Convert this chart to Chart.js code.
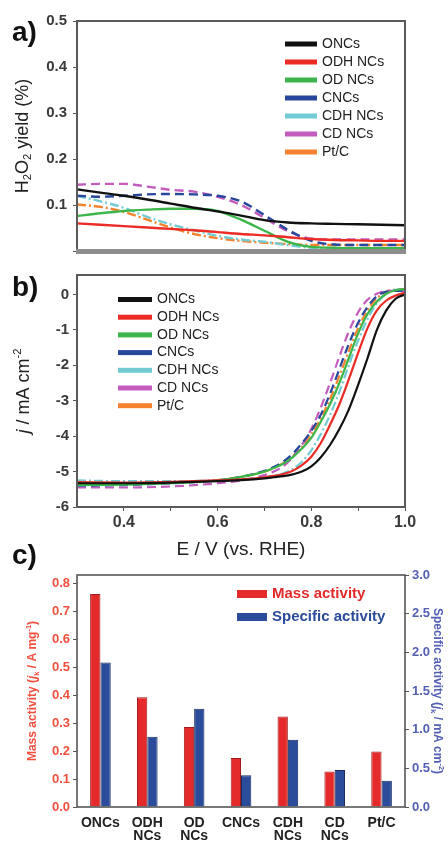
<!DOCTYPE html>
<html>
<head>
<meta charset="utf-8">
<script src="https://cdn.jsdelivr.net/npm/chart.js@4.4.1/dist/chart.umd.min.js"></script>
<style>
  html, body { margin: 0; padding: 0; background: #fff; }
  body { width: 448px; height: 843px; position: relative; overflow: hidden; }
  .box { position: absolute; left: 0; width: 448px; }
  .tag { position: absolute; left: 12px; font: bold 28px "Liberation Sans", Arial, sans-serif; line-height: 28px; color: #111; }
</style>
</head>
<body>
<div class="box" style="top:0;height:266px"><canvas id="yieldChart"></canvas></div>
<div class="box" style="top:262px;height:310px"><canvas id="lsvChart"></canvas></div>
<div class="box" style="top:560px;height:283px"><canvas id="activityChart"></canvas></div>
<div class="tag" style="top:18px">a)</div>
<div class="tag" style="top:273px">b)</div>
<div class="tag" style="top:541px">c)</div>
<script>
// ---- data ----
const seriesNames = ["ONCs", "ODH NCs", "OD NCs", "CNCs", "CDH NCs", "CD NCs", "Pt/C"];

// a) H2O2 yield vs potential
const xYield = [0.30, 0.35, 0.40, 0.45, 0.50, 0.55, 0.60, 0.65, 0.70, 0.75, 0.80, 0.85, 0.90, 0.95, 1.00];
const yieldONCs = [0.134, 0.127, 0.120, 0.112, 0.103, 0.094, 0.086, 0.077, 0.067, 0.062, 0.060, 0.059, 0.058, 0.057, 0.056];
const yieldODH  = [0.060, 0.057, 0.054, 0.051, 0.048, 0.045, 0.041, 0.037, 0.034, 0.030, 0.026, 0.024, 0.023, 0.022, 0.022];
const yieldOD   = [0.076, 0.082, 0.087, 0.090, 0.092, 0.092, 0.087, 0.068, 0.044, 0.020, 0.009, 0.007, 0.006, 0.006, 0.006];
const yieldCNCs = [0.120, 0.118, 0.120, 0.123, 0.124, 0.123, 0.120, 0.108, 0.078, 0.046, 0.022, 0.014, 0.013, 0.013, 0.013];
const yieldCDH  = [0.120, 0.108, 0.094, 0.074, 0.058, 0.045, 0.033, 0.025, 0.020, 0.013, 0.007, 0.006, 0.006, 0.006, 0.006];
const yieldCD   = [0.144, 0.146, 0.146, 0.140, 0.133, 0.129, 0.118, 0.100, 0.072, 0.043, 0.027, 0.025, 0.025, 0.025, 0.025];
const yieldPtC  = [0.101, 0.096, 0.085, 0.068, 0.051, 0.037, 0.028, 0.022, 0.018, 0.015, 0.013, 0.013, 0.013, 0.013, 0.013];
const yTicksA = [0, 0.1, 0.2, 0.3, 0.4, 0.5];

// b) polarisation curves
const xLsv = [0.30, 0.40, 0.50, 0.60, 0.65, 0.70, 0.72, 0.74, 0.76, 0.78, 0.80, 0.82, 0.84, 0.86, 0.88, 0.90, 0.92, 0.94, 0.96, 0.98, 1.00];
const lsvONCs = [-5.33, -5.33, -5.31, -5.27, -5.24, -5.19, -5.16, -5.13, -5.08, -5.00, -4.85, -4.60, -4.25, -3.80, -3.25, -2.55, -1.80, -1.00, -0.45, -0.12, 0.00];
const lsvODH  = [-5.30, -5.31, -5.29, -5.25, -5.22, -5.16, -5.12, -5.07, -4.98, -4.82, -4.58, -4.20, -3.68, -3.10, -2.40, -1.65, -0.95, -0.45, -0.17, -0.03, 0.05];
const lsvOD   = [-5.38, -5.37, -5.33, -5.25, -5.15, -5.00, -4.90, -4.78, -4.60, -4.35, -4.05, -3.60, -3.10, -2.50, -1.80, -1.10, -0.55, -0.20, 0.02, 0.12, 0.15];
const lsvCNCs = [-5.40, -5.38, -5.33, -5.25, -5.15, -4.98, -4.87, -4.72, -4.50, -4.20, -3.85, -3.40, -2.80, -2.10, -1.40, -0.80, -0.35, -0.05, 0.08, 0.10, 0.10];
const lsvCDH  = [-5.25, -5.27, -5.27, -5.25, -5.22, -5.17, -5.11, -5.05, -4.93, -4.72, -4.40, -3.95, -3.40, -2.75, -2.00, -1.30, -0.70, -0.25, 0.02, 0.13, 0.15];
const lsvCD   = [-5.45, -5.45, -5.42, -5.33, -5.25, -5.10, -5.00, -4.85, -4.60, -4.25, -3.80, -3.20, -2.50, -1.75, -1.05, -0.50, -0.15, 0.02, 0.10, 0.10, 0.10];
const lsvPtC  = [-5.33, -5.32, -5.30, -5.24, -5.15, -5.00, -4.90, -4.76, -4.57, -4.30, -3.95, -3.50, -2.95, -2.30, -1.60, -0.95, -0.45, -0.10, 0.08, 0.14, 0.15];
const xTicksB = [0.4, 0.5, 0.6, 0.7, 0.8, 0.9, 1.0];
const yTicksB = [0, -1, -2, -3, -4, -5, -6];

// c) activities
const catLabels = ["ONCs", ["ODH", "NCs"], ["OD", "NCs"], "CNCs", ["CDH", "NCs"], ["CD", "NCs"], "Pt/C"];
const massActivity = [0.762, 0.393, 0.286, 0.175, 0.324, 0.127, 0.199];
const specificActivity = [1.87, 0.91, 1.27, 0.41, 0.87, 0.48, 0.34];
const massTicks = [0, 0.1, 0.2, 0.3, 0.4, 0.5, 0.6, 0.7, 0.8];
const specTicks = [0, 0.5, 1.0, 1.5, 2.0, 2.5, 3.0];

// ---- styling ----
const FAMILY = "'Liberation Sans', Arial, sans-serif";
Chart.defaults.font.family = FAMILY;
const colors = ["#111111", "#ec2b24", "#3cb54a", "#27479c", "#72cbd3", "#c35cbd", "#f5822e"];
const dashes = [[], [], [], [9, 5], [9, 3, 2, 3], [9, 5], [9, 3, 2, 3]];

const framePlugin = {
  id: "frame",
  afterDraw(chart, args, o) {
    const { ctx, chartArea: a } = chart;
    ctx.save();
    ctx.strokeStyle = o.color;
    ctx.lineWidth = o.width;
    ctx.strokeRect(a.left, a.top, a.right - a.left, a.bottom - a.top);
    if (o.band) {
      ctx.fillStyle = "#8d8d8d";
      ctx.fillRect(a.left - 1, a.bottom - 2, a.right - a.left + 2, 5);
    }
    ctx.restore();
  }
};

const insideLegend = {
  id: "insideLegend",
  afterDraw(chart, args, o) {
    const ctx = chart.ctx;
    ctx.save();
    ctx.font = o.font;
    ctx.textBaseline = "middle";
    ctx.textAlign = "left";
    chart.data.datasets.forEach((ds, i) => {
      const y = o.y + i * o.step;
      const col = ds.swatch || ds.borderColor;
      ctx.fillStyle = col;
      ctx.fillRect(o.x, y - o.h / 2, o.w, o.h);
      ctx.fillStyle = o.textColor || col;
      ctx.fillText(ds.label, o.x + o.w + o.gap, y);
    });
    ctx.restore();
  }
};

// axis titles with italics / sub / superscripts
const richTitle = {
  id: "richTitle",
  afterDraw(chart, args, o) {
    const ctx = chart.ctx;
    const a = chart.chartArea;
    (o.titles || []).forEach(t => {
      const fontFor = p => {
        const size = p.st === "sub" || p.st === "sup" ? t.size * 0.62 : t.size;
        return (p.st === "i" ? "italic " : "") + t.weight + " " + size + "px " + FAMILY;
      };
      let total = 0;
      t.parts.forEach(p => { ctx.font = fontFor(p); total += ctx.measureText(p.t).width; });
      ctx.save();
      ctx.translate(t.x, (a.top + a.bottom) / 2);
      ctx.rotate(t.rot);
      ctx.fillStyle = t.color;
      ctx.textBaseline = "middle";
      ctx.textAlign = "left";
      let x = -total / 2;
      t.parts.forEach(p => {
        ctx.font = fontFor(p);
        const dy = p.st === "sub" ? t.size * 0.3 : p.st === "sup" ? -t.size * 0.35 : 0;
        ctx.fillText(p.t, x, dy);
        x += ctx.measureText(p.t).width;
      });
      ctx.restore();
    });
  }
};

const tickFont = { size: 15, weight: "bold" };

// ---- a) ----
const yieldSeries = [yieldONCs, yieldODH, yieldOD, yieldCNCs, yieldCDH, yieldCD, yieldPtC];
new Chart(document.getElementById("yieldChart"), {
  type: "line",
  data: {
    datasets: seriesNames.map((name, i) => ({
      label: name,
      data: xYield.map((x, k) => ({ x: x, y: yieldSeries[i][k] })),
      borderColor: colors[i],
      borderWidth: 2.4,
      borderDash: dashes[i],
      pointRadius: 0,
      cubicInterpolationMode: "monotone",
      fill: false
    }))
  },
  options: {
    responsive: true,
    maintainAspectRatio: false,
    animation: false,
    layout: { padding: { top: 21, right: 43, bottom: 0, left: 0 } },
    scales: {
      x: {
        type: "linear", min: 0.3, max: 1.0,
        ticks: { display: false },
        grid: { display: false },
        border: { display: false },
        afterFit: s => { s.height = 5; }
      },
      y: {
        min: 0, max: 0.5,
        afterBuildTicks: s => { s.ticks = yTicksA.map(v => ({ value: v })); },
        ticks: { font: tickFont, color: "#3a3a3a", padding: 6, callback: v => (v === 0 ? "" : v.toFixed(1)) },
        grid: { drawOnChartArea: false, tickLength: 4, color: "#555" },
        border: { display: false },
        afterFit: s => { s.width = 77; }
      }
    },
    plugins: {
      legend: { display: false },
      tooltip: { enabled: false },
      frame: { color: "#5a5a5a", width: 2, band: true },
      insideLegend: { x: 285, y: 44, step: 18, w: 32, h: 5, gap: 5, font: "14px " + FAMILY, textColor: "#222" },
      richTitle: {
        titles: [{
          x: 23, rot: -Math.PI / 2, size: 18, weight: "normal", color: "#222",
          parts: [{ t: "H" }, { t: "2", st: "sub" }, { t: "O" }, { t: "2", st: "sub" }, { t: " yield (%)" }]
        }]
      }
    }
  },
  plugins: [framePlugin, insideLegend, richTitle]
});

// ---- b) ----
const lsvSeries = [lsvONCs, lsvODH, lsvOD, lsvCNCs, lsvCDH, lsvCD, lsvPtC];
new Chart(document.getElementById("lsvChart"), {
  type: "line",
  data: {
    datasets: seriesNames.map((name, i) => ({
      label: name,
      data: xLsv.map((x, k) => ({ x: x, y: lsvSeries[i][k] })),
      borderColor: colors[i],
      borderWidth: 2.2,
      borderDash: dashes[i],
      pointRadius: 0,
      cubicInterpolationMode: "monotone",
      fill: false
    }))
  },
  options: {
    responsive: true,
    maintainAspectRatio: false,
    animation: false,
    layout: { padding: { top: 0, right: 43, bottom: 0, left: 0 } },
    scales: {
      x: {
        type: "linear", min: 0.3, max: 1.0,
        afterBuildTicks: s => { s.ticks = xTicksB.map(v => ({ value: v })); },
        ticks: {
          font: { size: 16, weight: "bold" }, color: "#3a3a3a", padding: 2, maxRotation: 0,
          callback: v => ([0.4, 0.6, 0.8, 1.0].some(m => Math.abs(m - v) < 1e-6) ? v.toFixed(1) : "")
        },
        grid: { drawOnChartArea: false, tickLength: 4, color: "#555" },
        border: { display: false },
        title: { display: true, text: "E / V (vs. RHE)", font: { size: 19 }, color: "#222", padding: { top: 0, bottom: 11 } },
        afterFit: s => { s.height = 65; }
      },
      y: {
        min: -6, max: 0.55,
        afterBuildTicks: s => { s.ticks = yTicksB.map(v => ({ value: v })); },
        ticks: { font: tickFont, color: "#3a3a3a", padding: 4 },
        grid: { drawOnChartArea: false, tickLength: 4, color: "#555" },
        border: { display: false },
        afterFit: s => { s.width = 77; }
      }
    },
    plugins: {
      legend: { display: false },
      tooltip: { enabled: false },
      frame: { color: "#5a5a5a", width: 2, band: false },
      insideLegend: { x: 118, y: 37.5, step: 17.7, w: 34, h: 5, gap: 5, font: "14px " + FAMILY, textColor: "#222" },
      richTitle: {
        titles: [{
          x: 24, rot: -Math.PI / 2, size: 18, weight: "normal", color: "#222",
          parts: [{ t: "j", st: "i" }, { t: " / mA cm" }, { t: "-2", st: "sup" }]
        }]
      }
    }
  },
  plugins: [framePlugin, insideLegend, richTitle]
});

// ---- c) ----
new Chart(document.getElementById("activityChart"), {
  type: "bar",
  data: {
    labels: catLabels,
    datasets: [
      { label: "Mass activity", data: massActivity, yAxisID: "y", backgroundColor: "#e42a2a", swatch: "#e42a2a", borderColor: "#a01c1c", borderWidth: 1 },
      { label: "Specific activity", data: specificActivity, yAxisID: "y2", backgroundColor: "#2b4b9b", swatch: "#2b4b9b", borderColor: "#1a2d63", borderWidth: 1 }
    ]
  },
  options: {
    responsive: true,
    maintainAspectRatio: false,
    animation: false,
    layout: { padding: { top: 15, right: 0, bottom: 0, left: 0 } },
    datasets: { bar: { categoryPercentage: 0.44, barPercentage: 1.0 } },
    scales: {
      x: {
        ticks: { font: { size: 14, weight: "bold", lineHeight: 0.95 }, color: "#222", padding: 9, maxRotation: 0, autoSkip: false },
        grid: { display: false, drawTicks: false },
        border: { display: false },
        afterFit: s => { s.height = 36; }
      },
      y: {
        position: "left", min: 0, max: 0.83,
        afterBuildTicks: s => { s.ticks = massTicks.map(v => ({ value: v })); },
        ticks: { font: { size: 13, weight: "bold" }, color: "#f0513f", padding: 3, callback: v => v.toFixed(1) },
        grid: { drawOnChartArea: false, tickLength: 4, color: "#555" },
        border: { display: false },
        afterFit: s => { s.width = 77; }
      },
      y2: {
        position: "right", min: 0, max: 3.0,
        afterBuildTicks: s => { s.ticks = specTicks.map(v => ({ value: v })); },
        ticks: { font: { size: 13, weight: "bold" }, color: "#5461b3", padding: 3, callback: v => v.toFixed(1) },
        grid: { drawOnChartArea: false, tickLength: 4, color: "#555" },
        border: { display: false },
        afterFit: s => { s.width = 43; }
      }
    },
    plugins: {
      legend: { display: false },
      tooltip: { enabled: false },
      frame: { color: "#555", width: 1.6, band: false },
      insideLegend: { x: 237, y: 34, step: 23, w: 30, h: 8, gap: 5, font: "bold 15px " + FAMILY },
      richTitle: {
        titles: [
          {
            x: 33, rot: -Math.PI / 2, size: 12, weight: "bold", color: "#f0513f",
            parts: [{ t: "Mass activity (" }, { t: "j", st: "i" }, { t: "k", st: "sub" }, { t: " / A mg" }, { t: "-1", st: "sup" }, { t: ")" }]
          },
          {
            x: 437, rot: Math.PI / 2, size: 12, weight: "bold", color: "#5461b3",
            parts: [{ t: "Specific activity (" }, { t: "j", st: "i" }, { t: "k", st: "sub" }, { t: " / mA cm" }, { t: "-2", st: "sup" }, { t: ")" }]
          }
        ]
      }
    }
  },
  plugins: [framePlugin, insideLegend, richTitle]
});
</script>
</body>
</html>
